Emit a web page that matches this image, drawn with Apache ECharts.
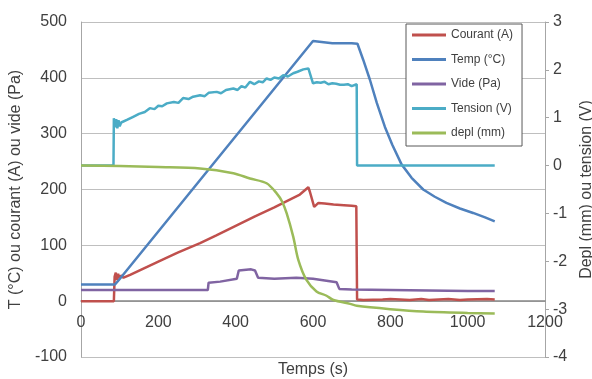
<!DOCTYPE html>
<html>
<head>
<meta charset="utf-8">
<script src="https://cdn.jsdelivr.net/npm/echarts@6/dist/echarts.min.js"></script>
<style>html,body{margin:0;padding:0;background:#fff}#c{width:592px;height:379px}</style>
</head>
<body>
<div id="c"></div>
<script>
// ---- data ----
var xTicks = [0, 200, 400, 600, 800, 1000, 1200];

var courantT = [0, 85, 87, 90, 93, 96, 99, 103, 110, 127, 160, 200, 250, 308, 350, 400, 450, 500, 540, 566, 588, 592, 603, 614, 630, 653, 680, 700, 712, 714, 730, 780, 800, 850, 880, 900, 950, 980, 1000, 1050, 1070];
var courantV = [0, 0, 44, 51, 38, 49, 41, 46, 42, 47, 58, 71, 87, 104, 118, 135, 152, 168, 182, 191, 204, 196, 169, 176, 175, 173, 172, 171, 170, 3, 2, 3, 4, 2, 4, 2, 4, 2, 3, 4, 3];

var tempT = [0, 88, 98, 600, 605, 650, 700, 715, 730, 747, 765, 786, 805, 829, 855, 885, 915, 945, 980, 1014, 1045, 1070];
var tempV = [30, 30, 38, 466, 463, 462, 462, 461, 432, 397, 355, 312, 280, 245, 221, 200, 187, 176, 166, 158, 150, 143];

var videT = [0, 200, 328, 330, 360, 403, 408, 412, 440, 450, 458, 462, 500, 557, 600, 661, 666, 668, 700, 800, 900, 1000, 1070];
var videV = [20, 20, 20, 33, 35, 40, 55, 57, 57, 55, 42, 40, 40, 42, 40, 34, 33, 22, 21, 20, 19, 18, 18];

var tensionT = [0, 84, 85, 88, 91, 94, 97, 100, 104, 109, 120, 135, 150, 165, 178, 190, 200, 210, 222, 240, 252, 264, 278, 290, 308, 320, 330, 351, 362, 375, 394, 405, 415, 425, 437, 448, 460, 470, 480, 490, 500, 512, 523, 535, 549, 560, 575, 580, 588, 592, 600, 610, 620, 630, 640, 650, 660, 670, 680, 690, 700, 705, 713, 714, 1070];
var tensionV = [0, 0, 0.99, 0.80, 0.97, 0.78, 0.95, 0.82, 0.90, 0.88, 0.96, 1.02, 1.08, 1.12, 1.20, 1.18, 1.25, 1.24, 1.30, 1.33, 1.31, 1.41, 1.39, 1.44, 1.47, 1.45, 1.52, 1.54, 1.51, 1.58, 1.61, 1.58, 1.66, 1.63, 1.75, 1.70, 1.76, 1.74, 1.82, 1.79, 1.84, 1.82, 1.89, 1.86, 1.93, 1.96, 2.01, 1.97, 2.03, 2.02, 1.72, 1.74, 1.73, 1.75, 1.70, 1.72, 1.71, 1.69, 1.69, 1.70, 1.66, 1.70, 1.70, 0, 0];

var deplT = [0, 100, 200, 308, 394, 437, 480, 506, 520, 532, 549, 562, 583, 609, 635, 653, 696, 713, 800, 885, 1000, 1070];
var deplV = [0, -0.01, -0.03, -0.06, -0.16, -0.27, -0.37, -0.58, -0.75, -1.0, -1.49, -1.97, -2.39, -2.63, -2.72, -2.81, -2.89, -2.93, -3.0, -3.05, -3.08, -3.09];

var seriesNames = ['Courant (A)', 'Temp (°C)', 'Vide (Pa)', 'Tension (V)', 'depl (mm)'];

function zip(t, v) { return t.map(function (x, i) { return [x, v[i]]; }); }

var FONT = "'Liberation Sans', Arial, sans-serif";
var TXT = '#404040';
var plain = function (v) { return String(v); };

function line(name, data, color, yIdx, smooth) {
  return {
    name: name, type: 'line', data: data, yAxisIndex: yIdx, xAxisIndex: 0,
    symbol: 'none', showSymbol: false, smooth: smooth || false,
    lineStyle: { color: color, width: 2.5 }, itemStyle: { color: color },
    animation: false
  };
}

var chart = echarts.init(document.getElementById('c'), null, { renderer: 'canvas' });
var gridTop = 22, gridBottom = 22, plotH = 379 - gridTop - gridBottom;
var yMin = -100, yMax = 500;
var zeroOffset = -plotH * (0 - yMin) / (yMax - yMin);

chart.setOption({
  backgroundColor: '#ffffff',
  animation: false,
  textStyle: { fontFamily: FONT },
  grid: { left: 81, right: 47, top: gridTop, bottom: gridBottom, containLabel: false, outerBoundsMode: 'none' },
  legend: {
    orient: 'vertical', left: 406, top: 24,
    padding: [4, 9, 6, 6], itemGap: 10.5, itemWidth: 34, itemHeight: 3,
    icon: 'rect',
    borderColor: '#595959', borderWidth: 1, backgroundColor: '#ffffff',
    textStyle: { fontSize: 12, lineHeight: 14, color: TXT, fontFamily: FONT },
    data: seriesNames
  },
  xAxis: [{
    type: 'value', min: xTicks[0], max: xTicks[xTicks.length - 1], interval: xTicks[1] - xTicks[0],
    position: 'bottom', offset: zeroOffset,
    axisLine: { show: true, onZero: false, lineStyle: { color: '#868686', width: 1.5 } },
    axisTick: { show: false },
    axisLabel: { fontSize: 16, color: TXT, margin: 13, fontFamily: FONT, formatter: plain },
    splitLine: { show: false }
  }, {
    type: 'value', position: 'bottom', min: 0, max: 1200,
    axisLine: { show: false }, axisTick: { show: false }, axisLabel: { show: false }, splitLine: { show: false },
    name: 'Temps (s)', nameLocation: 'middle', nameGap: 5,
    nameTextStyle: { fontSize: 16, color: TXT, fontFamily: FONT }
  }],
  yAxis: [{
    type: 'value', min: yMin, max: yMax, interval: 100, position: 'left',
    axisLine: { show: true, onZero: false, lineStyle: { color: '#a6a6a6', width: 1 } },
    axisTick: { show: false },
    axisLabel: { fontSize: 16, color: TXT, margin: 14, fontFamily: FONT, formatter: plain },
    splitLine: { show: true, lineStyle: { color: '#bfbfbf', width: 1 } },
    name: 'T (°C) ou courant (A) ou vide (Pa)', nameLocation: 'middle', nameGap: 52, nameRotate: 90,
    nameTextStyle: { fontSize: 16, color: TXT, fontFamily: FONT }
  }, {
    type: 'value', min: -4, max: 3, interval: 1, position: 'right',
    axisLine: { show: true, onZero: false, lineStyle: { color: '#a6a6a6', width: 1 } },
    axisTick: { show: true, inside: false, length: 4, lineStyle: { color: '#a6a6a6' } },
    axisLabel: { fontSize: 16, color: TXT, margin: 8, fontFamily: FONT, formatter: plain },
    splitLine: { show: false },
    name: 'Depl (mm) ou tension (V)', nameLocation: 'middle', nameGap: 34, nameRotate: 90,
    nameTextStyle: { fontSize: 16, color: TXT, fontFamily: FONT }
  }],
  series: [
    line(seriesNames[0], zip(courantT, courantV), '#C0504D', 0),
    line(seriesNames[1], zip(tempT, tempV), '#4F81BD', 0),
    line(seriesNames[2], zip(videT, videV), '#8064A2', 0),
    line(seriesNames[3], zip(tensionT, tensionV), '#4BACC6', 1),
    line(seriesNames[4], zip(deplT, deplV), '#9BBB59', 1, 0.3)
  ]
});
</script>
</body>
</html>
